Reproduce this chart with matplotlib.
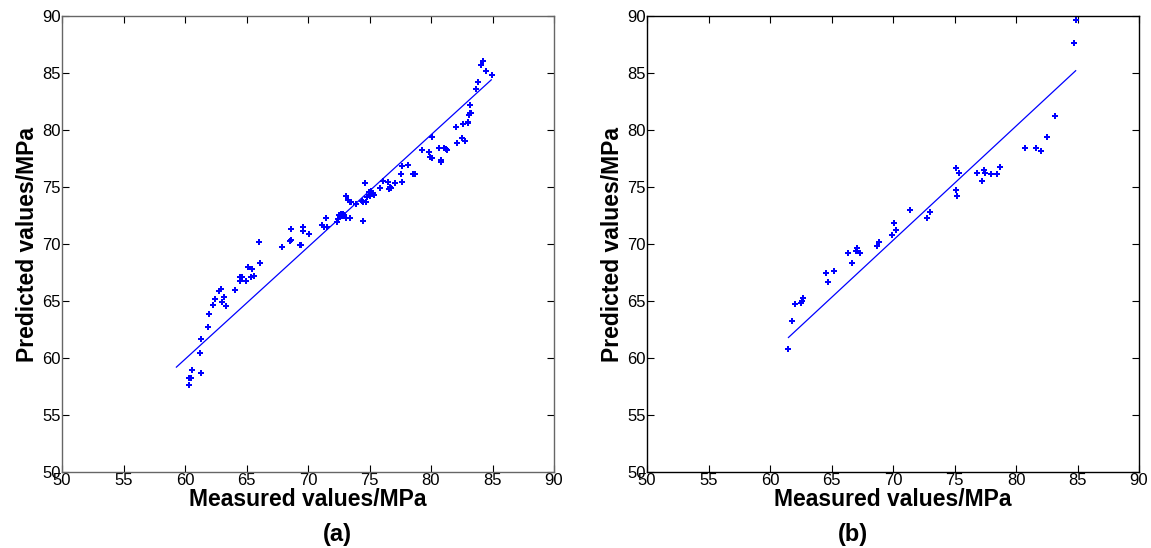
import numpy as np
import matplotlib
matplotlib.use('Agg')
import matplotlib.pyplot as plt

# panel (a): measured vs predicted, MPa
meas_a = [60.35, 60.35, 60.46, 60.54, 61.28, 61.24, 61.33, 61.85, 61.93, 62.28,
          62.46, 62.76, 62.93, 63.01, 63.15, 63.36, 64.07, 64.50, 64.50, 64.66,
          64.93, 65.15, 65.45, 65.34, 65.61, 66.02, 66.10, 67.89, 68.62, 68.56,
          68.64, 69.43, 69.35, 69.62, 69.62, 70.08, 71.16, 71.33, 71.54, 71.49,
          72.38, 72.44, 72.54, 72.68, 72.76, 72.87, 72.95, 73.11, 73.44, 73.11,
          73.25, 73.39, 73.50, 73.93, 74.37, 74.47, 74.47, 74.74, 74.66, 74.77,
          74.98, 75.10, 75.20, 75.28, 75.39, 75.04, 75.83, 76.10, 76.48, 76.67,
          76.56, 76.77, 77.10, 77.56, 77.67, 78.56, 78.72, 77.62, 78.13, 79.27,
          79.84, 79.94, 80.08, 80.11, 80.65, 81.08, 81.24, 81.33, 80.79, 80.81,
          82.06, 82.11, 82.52, 82.76, 82.63, 83.03, 82.98, 83.15, 83.25, 83.09,
          83.20, 83.66, 83.80, 84.20, 84.07, 84.50, 84.96]
pred_a = [57.61, 58.27, 58.22, 58.92, 58.68, 60.48, 61.64, 62.75, 63.89, 64.68,
          65.20, 65.90, 66.05, 64.91, 65.38, 64.59, 65.94, 66.73, 67.11, 67.11,
          66.78, 67.96, 67.78, 67.11, 67.17, 70.18, 68.31, 69.71, 70.32, 70.24,
          71.29, 69.94, 69.89, 71.46, 71.11, 70.90, 71.67, 71.52, 71.52, 72.28,
          71.90, 72.17, 72.54, 72.61, 72.48, 72.61, 72.52, 72.28, 72.28, 74.24,
          73.83, 73.71, 73.68, 73.54, 73.77, 73.66, 72.04, 73.66, 75.32, 74.10,
          74.54, 74.62, 74.50, 74.45, 74.32, 74.18, 74.89, 75.55, 75.46, 75.03,
          74.80, 74.94, 75.32, 76.17, 75.41, 76.11, 76.17, 76.87, 76.96, 78.27,
          78.04, 77.61, 77.57, 79.39, 78.42, 78.45, 78.31, 78.25, 77.37, 77.17,
          80.24, 78.83, 79.30, 79.06, 80.53, 80.70, 80.61, 81.49, 81.49, 81.32,
          82.17, 83.57, 84.18, 86.03, 85.68, 85.20, 84.82]
fit_a_x = [59.3, 84.9]
fit_a_y = [59.2, 84.4]

# panel (b)
meas_b = [61.49, 61.76, 62.06, 62.52, 62.60, 62.71, 64.55, 64.69, 65.20, 66.34,
          66.97, 67.05, 67.32, 66.69, 68.67, 68.89, 69.89, 70.11, 70.24, 71.38,
          72.79, 73.03, 75.16, 75.37, 75.15, 75.23, 76.79, 77.21, 77.41, 77.52,
          77.93, 78.43, 78.70, 80.71, 81.63, 82.01, 82.54, 83.17, 84.74, 84.85]
pred_b = [60.76, 63.25, 64.71, 64.80, 65.03, 65.29, 67.48, 66.64, 67.63, 69.24,
          69.41, 69.65, 69.17, 68.31, 69.85, 70.18, 70.79, 71.87, 71.25, 72.96,
          72.31, 72.78, 76.67, 76.25, 74.71, 74.18, 76.25, 75.50, 76.46, 76.25,
          76.11, 76.11, 76.73, 78.42, 78.45, 78.18, 79.36, 81.25, 87.61, 89.69]
fit_b_x = [61.5, 84.85]
fit_b_y = [61.8, 85.2]

ticks = [50, 55, 60, 65, 70, 75, 80, 85, 90]
plt.rcParams['font.family'] = ['Liberation Sans', 'DejaVu Sans']

fig = plt.figure(figsize=(11.51, 5.48), dpi=100)
W, H = 1151.0, 548.0
ax_a = fig.add_axes([62 / W, 76 / H, 492 / W, 456 / H])
ax_b = fig.add_axes([647 / W, 76 / H, 492 / W, 456 / H])

panels = [(ax_a, meas_a, pred_a, fit_a_x, fit_a_y, '#666666'),
          (ax_b, meas_b, pred_b, fit_b_x, fit_b_y, 'black')]
for ax, mx, py, fx, fy, spc in panels:
    ax.plot(fx, fy, color='blue', linewidth=0.9)
    ax.plot(mx, py, linestyle='none', marker='P', markersize=5,
            color='blue', markeredgewidth=0)
    ax.set_xlim(50, 90)
    ax.set_ylim(50, 90)
    ax.set_xticks(ticks)
    ax.set_yticks(ticks)
    ax.tick_params(direction='in', length=5, width=0.8, top=True, right=True,
                   labelsize=12, pad=1, colors='black')
    for s in ax.spines.values():
        s.set_color(spc)
        s.set_linewidth(1.0)
    ax.set_xlabel('Measured values/MPa', fontsize=16.5, fontweight='bold', labelpad=0)
    ax.set_ylabel('Predicted values/MPa', fontsize=16.5, fontweight='bold', labelpad=2)

fig.text(337 / W, 1 - 534 / H, '(a)', fontsize=17, fontweight='bold',
         ha='center', va='center')
fig.text(853 / W, 1 - 534 / H, '(b)', fontsize=17, fontweight='bold',
         ha='center', va='center')

fig.savefig('out.png', dpi=100)
